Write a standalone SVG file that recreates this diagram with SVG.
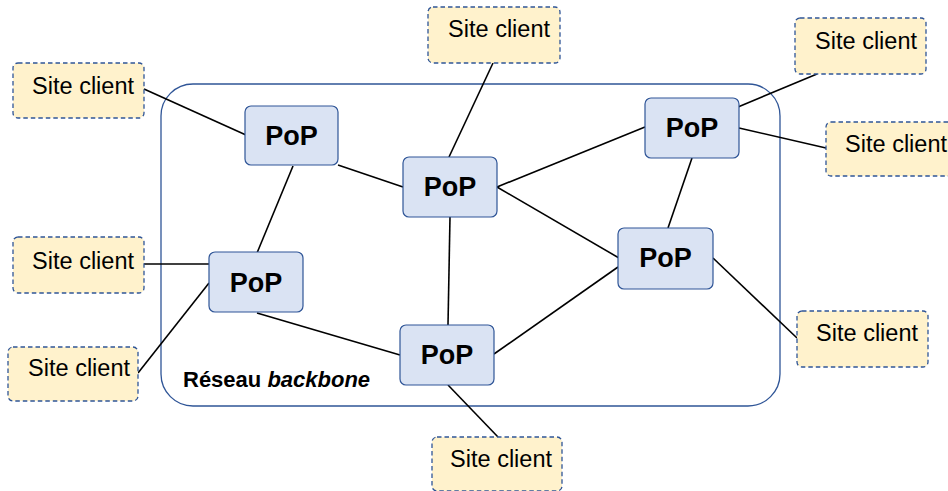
<svg xmlns="http://www.w3.org/2000/svg" width="948" height="491" viewBox="0 0 948 491">
<style>
.site rect{fill:#FFF2CC;stroke:#2F5597;stroke-width:1.3;stroke-dasharray:4.5 3}
.site text{font-family:"Liberation Sans",Arial,sans-serif;font-size:23.5px;fill:#000;text-anchor:end}
.pop rect{fill:#DAE3F3;stroke:#2F5597;stroke-width:1.2}
.pop text{font-family:"Liberation Sans",Arial,sans-serif;font-size:27px;font-weight:bold;fill:#000;text-anchor:middle}
#connectors line{stroke:#000;stroke-width:1.6}
</style>
<rect id="backbone" x="161" y="84" width="619" height="322" rx="32" fill="none" stroke="#2F5597" stroke-width="1.3"/>
<text x="183" y="387" font-family="'Liberation Sans',Arial,sans-serif" font-size="22" font-weight="bold">Réseau <tspan font-style="italic">backbone</tspan></text>
<g id="connectors">
<line x1="144" y1="89" x2="246" y2="135"/>
<line x1="293" y1="166" x2="257" y2="253"/>
<line x1="338" y1="165" x2="403" y2="187"/>
<line x1="493" y1="63" x2="449" y2="157"/>
<line x1="497" y1="187" x2="645" y2="127"/>
<line x1="497" y1="187" x2="619" y2="258"/>
<line x1="450" y1="217" x2="448" y2="325"/>
<line x1="692" y1="158" x2="668" y2="228"/>
<line x1="738" y1="107" x2="817" y2="74"/>
<line x1="739" y1="128" x2="826" y2="148"/>
<line x1="713" y1="258" x2="797" y2="338"/>
<line x1="618" y1="267" x2="494" y2="354"/>
<line x1="144" y1="264" x2="209" y2="264"/>
<line x1="209" y1="283" x2="138" y2="373"/>
<line x1="257" y1="313" x2="400" y2="355"/>
<line x1="448" y1="385" x2="498" y2="437"/>
</g>
<g id="popA" class="pop"><rect x="245" y="106" width="93" height="59" rx="6"/><text x="291.5" y="145">PoP</text></g>
<g id="popB" class="pop"><rect x="403" y="157" width="94" height="60" rx="6"/><text x="450" y="196">PoP</text></g>
<g id="popC" class="pop"><rect x="645" y="98" width="94" height="60" rx="6"/><text x="692" y="137">PoP</text></g>
<g id="popD" class="pop"><rect x="618" y="228" width="95" height="61" rx="6"/><text x="665.5" y="267">PoP</text></g>
<g id="popE" class="pop"><rect x="209" y="252" width="94" height="60" rx="6"/><text x="256" y="292">PoP</text></g>
<g id="popF" class="pop"><rect x="400" y="325" width="94" height="60" rx="6"/><text x="447" y="364">PoP</text></g>
<g id="site1" class="site"><rect x="13" y="63" width="131" height="55" rx="5"/><text x="134" y="94">Site client</text></g>
<g id="site2" class="site"><rect x="428" y="7" width="132" height="56" rx="5"/><text x="550" y="37">Site client</text></g>
<g id="site3" class="site"><rect x="795" y="18" width="131" height="56" rx="5"/><text x="917" y="49">Site client</text></g>
<g id="site4" class="site"><rect x="826" y="122" width="131" height="54" rx="5"/><text x="947" y="152">Site client</text></g>
<g id="site5" class="site"><rect x="13" y="237" width="131" height="56" rx="5"/><text x="134" y="269">Site client</text></g>
<g id="site6" class="site"><rect x="8" y="347" width="130" height="54" rx="5"/><text x="130" y="376">Site client</text></g>
<g id="site7" class="site"><rect x="432" y="437" width="130" height="54" rx="5"/><text x="552" y="467">Site client</text></g>
<g id="site8" class="site"><rect x="797" y="311" width="131" height="56" rx="5"/><text x="918" y="341">Site client</text></g>
</svg>
